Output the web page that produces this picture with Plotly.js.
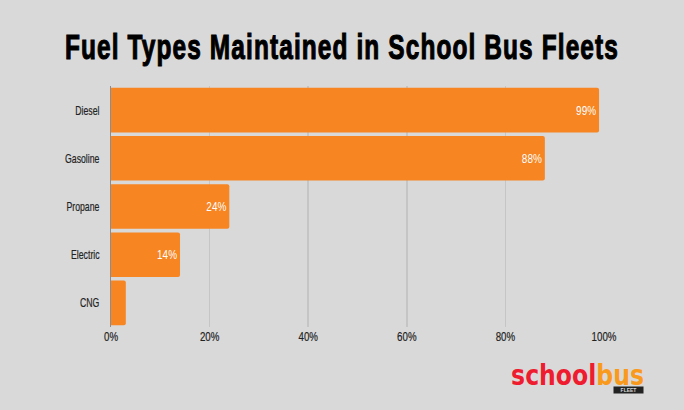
<!DOCTYPE html>
<html><head><meta charset="utf-8">
<script src="https://cdn.plot.ly/plotly-3.0.1.min.js"></script>
<style>
html,body{margin:0;padding:0;background:#d9d9d9;overflow:hidden}
.gtitle{letter-spacing:1.6px;paint-order:stroke;stroke:#000;stroke-width:1.1px}
.ytick text,.xtick text{paint-order:stroke;stroke:#222;stroke-width:.2px}
</style></head><body>
<div id="chart" style="width:684px;height:410px"></div>
<script>
const categories = ["Diesel","Gasoline","Propane","Electric","CNG"];
const shares = [99,88,24,14,3];
const barLabels = ["99%","88%","24%","14%",""];
const tickValues = [0,20,40,60,80,100];
const tickLabels = ["0%","20%","40%","60%","80%","100%"];
const sans = "'Liberation Sans',sans-serif";
function squeeze(selector, sx, anchor){
  document.querySelectorAll(selector).forEach(el=>{
    const b = el.getBBox();
    if(!b.width) return;
    const px = anchor==="end" ? b.x+b.width : b.x+b.width/2;
    const prev = el.getAttribute("transform")||"";
    el.setAttribute("transform", prev+" translate("+px+" 0) scale("+sx+" 1) translate("+(-px)+" 0)");
  });
}
Plotly.newPlot("chart",[{
  type:"bar",orientation:"h",y:categories,x:shares,
  text:barLabels,textposition:"inside",insidetextanchor:"end",constraintext:"none",
  textangle:0,
  textfont:{family:sans,size:13.5,color:"#ffffff"},
  marker:{color:"#f68522",line:{width:0}},
  hoverinfo:"skip",cliponaxis:false
}],{
  width:684,height:410,
  paper_bgcolor:"#d9d9d9",plot_bgcolor:"#d9d9d9",
  margin:{l:111,r:80,t:86,b:83,pad:0},
  barcornerradius:2,bargap:0.075,
  showlegend:false,
  title:{text:"Fuel Types Maintained in School Bus Fleets",
    font:{family:sans,size:35,weight:700,color:"#000"},
    x:0.5,xanchor:"center",xref:"container",y:0.885,yanchor:"middle"},
  xaxis:{range:[0,100],tickvals:tickValues,ticktext:tickLabels,
    showgrid:true,gridcolor:"#c5c5c5",gridwidth:1.5,zeroline:false,
    showline:false,ticks:"",ticklen:0,
    tickfont:{family:sans,size:13.5,color:"#222"},automargin:false},
  yaxis:{autorange:"reversed",categoryorder:"array",categoryarray:categories,
    showgrid:false,zeroline:false,showline:true,linecolor:"#8c8c8c",linewidth:1,
    ticks:"outside",ticklen:8,tickcolor:"rgba(0,0,0,0)",
    tickfont:{family:sans,size:13,color:"#222"},automargin:false},
  annotations:[
    {xref:"paper",yref:"paper",x:(577-111)/493,y:(327-374.5)/241,xanchor:"center",yanchor:"middle",showarrow:false,
      text:"<b><span style='color:#ee1c2e'>school</span><span style='color:#fa9a1c'>bus</span></b>",
      font:{family:"'DejaVu Sans',sans-serif",size:27.5},borderpad:0},
    {xref:"paper",yref:"paper",x:(628.5-111)/493,y:(327-390)/241,xanchor:"center",yanchor:"middle",showarrow:false,
      text:"<b>FLEET</b>",font:{family:sans,size:5,color:"#d9d9d9"},
      bgcolor:"#222222",borderpad:0,width:29,height:6,align:"center"}
  ]
},{displayModeBar:false,staticPlot:true}).then(()=>{
  squeeze(".gtitle",0.698,"middle");
  squeeze(".ytick text",0.67,"end");
  squeeze(".xtick text",0.72,"middle");
  squeeze(".bartext",0.74,"end");
  squeeze(".annotation[data-index='0'] .annotation-text",0.857,"middle");
});
</script></body></html>
